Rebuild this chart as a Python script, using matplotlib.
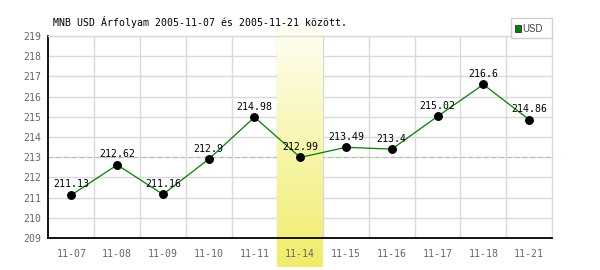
import numpy as np
import matplotlib.pyplot as plt
from matplotlib.patches import Rectangle

dates = ['11-07', '11-08', '11-09', '11-10', '11-11', '11-14',
         '11-15', '11-16', '11-17', '11-18', '11-21']
usd = [211.13, 212.62, 211.16, 212.9, 214.98, 212.99,
       213.49, 213.4, 215.02, 216.6, 214.86]
labels = ['211.13', '212.62', '211.16', '212.9', '214.98', '212.99',
          '213.49', '213.4', '215.02', '216.6', '214.86']
highlight = '11-14'
ref_level = 213
yticks = list(range(209, 220))

mono = 'DejaVu Sans Mono'
fig = plt.figure(figsize=(6, 2.7), dpi=100)
ax = fig.add_axes([48.5/600, 1 - 238/270, (552 - 48.5)/600, (238 - 36)/270])

x = np.arange(len(dates))

# grid drawn by hand so the tick labels can sit above the highlight band
for b in x[:-1] + 0.5:
    ax.axvline(b, color='#d9d9d9', lw=1, zorder=0)
for v in yticks:
    ax.axhline(v, color='#d9d9d9', lw=1, zorder=0)

ax.axhline(ref_level, color='#a8c8a8', lw=0.8, ls=(0, (4, 3)), zorder=0.8)

# highlighted day, white to yellow gradient
hi = dates.index(highlight)
grad = np.linspace(0, 1, 256)[:, None]
c_top = np.array([255, 255, 245]) / 255
c_bot = np.array([240, 237, 105]) / 255
img = c_top + (c_bot - c_top) * grad[..., None]
img = np.repeat(img, 2, axis=1)
ax.imshow(img, aspect='auto', origin='upper',
          extent=[hi - 0.5, hi + 0.5, 207.55, 219.6],
          zorder=1, clip_on=False, interpolation='bilinear')

ax.plot(x, usd, color='#008000', lw=0.9, zorder=3)
ax.plot(x, usd, 'o', color='black', ms=5.4, zorder=4)
for xi, yi, lab in zip(x, usd, labels):
    ax.annotate(lab, (xi, yi), xytext=(0, 7.6), textcoords='offset points',
                ha='center', va='center', fontsize=7.1, family=mono,
                color='black', zorder=5)

ax.set_xlim(-0.5, len(dates) - 0.5)
ax.set_ylim(209, 219)
ax.set_xticks(x)
ax.set_yticks(yticks)
ax.set_xticklabels(dates, family=mono, fontsize=7.1, color='#666666')
ax.set_yticklabels([str(v) for v in yticks], family=mono, fontsize=7.1, color='#666666')
ax.tick_params(which='both', length=0)
ax.tick_params(axis='x', pad=8)
ax.tick_params(axis='y', pad=5)

for s in ['top', 'right']:
    ax.spines[s].set_color('#d9d9d9')
    ax.spines[s].set_linewidth(1)
for s in ['left', 'bottom']:
    ax.spines[s].set_color('black')
    ax.spines[s].set_linewidth(1.3)
    ax.spines[s].set_zorder(2.5)

fig.text(53/600, 1 - 22/270, 'MNB USD Árfolyam 2005-11-07 és 2005-11-21 között.',
         family=mono, fontsize=7.1, color='black', va='center', ha='left')

# legend box
fig.patches.append(Rectangle((511/600, 1 - 38/270), 41/600, 20/270,
                             transform=fig.transFigure, facecolor='white',
                             edgecolor='#d0d0d0', lw=1, zorder=10))
fig.patches.append(Rectangle((514.5/600, 1 - 31.5/270), 6/600, 6.5/270,
                             transform=fig.transFigure, facecolor='#008000',
                             edgecolor='#333333', lw=0.6, zorder=11))
fig.text(522/600, 1 - 28.5/270, 'USD', family='Liberation Sans', fontsize=7,
         color='#444444', va='center', ha='left', zorder=12)

fig.savefig('out.png', dpi=100)
